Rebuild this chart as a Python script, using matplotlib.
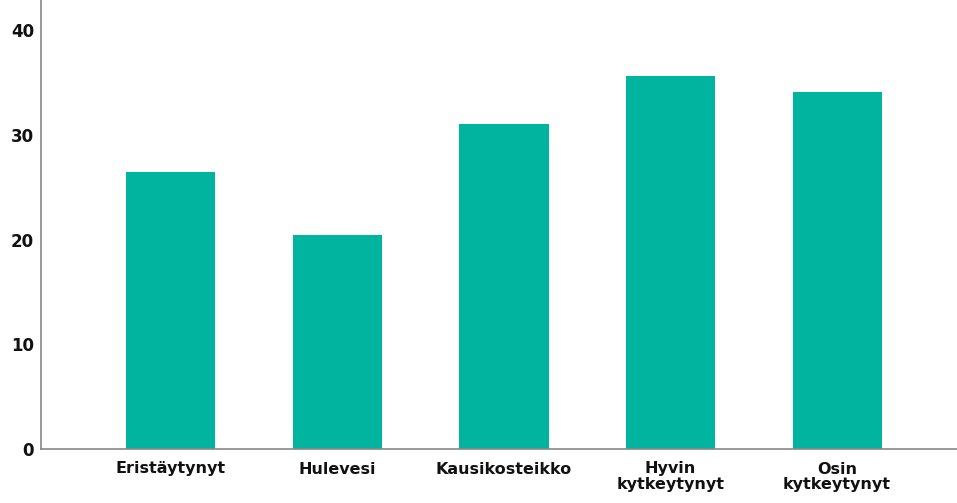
import matplotlib
matplotlib.use("Agg")
import matplotlib.pyplot as plt

categories = ["Eristäytynyt", "Hulevesi", "Kausikosteikko", "Hyvin\nkytkeytynyt", "Osin\nkytkeytynyt"]
values = [26.5, 20.4, 31.1, 35.6, 34.1]
yticks = [0, 10, 20, 30, 40]

plt.rcParams['font.family'] = ['DejaVu Sans']

fig = plt.figure(figsize=(9.57, 5.03), dpi=100)
ax = fig.add_axes([41 / 957, 54 / 503, 1 - 41 / 957, 1 - 54 / 503])

x = range(len(categories))
ax.bar(x, values, width=0.535, color="#00B4A0")

ax.set_xlim(-0.78, 4.72)
ax.set_ylim(0, 42.9)
ax.set_yticks(yticks)
ax.set_yticklabels([str(t) for t in yticks], fontsize=12, fontweight="bold")
ax.set_xticks(list(x))
ax.set_xticklabels(categories, fontsize=11.5, fontweight="bold", linespacing=1.0)
ax.tick_params(axis="both", length=0, colors="#111111")
ax.tick_params(axis="x", pad=9)
ax.tick_params(axis="y", pad=5)

for s in ["top", "right"]:
    ax.spines[s].set_visible(False)
for s in ["left", "bottom"]:
    ax.spines[s].set_color("#888888")
    ax.spines[s].set_linewidth(1.2)

fig.savefig("out.png", dpi=100)
